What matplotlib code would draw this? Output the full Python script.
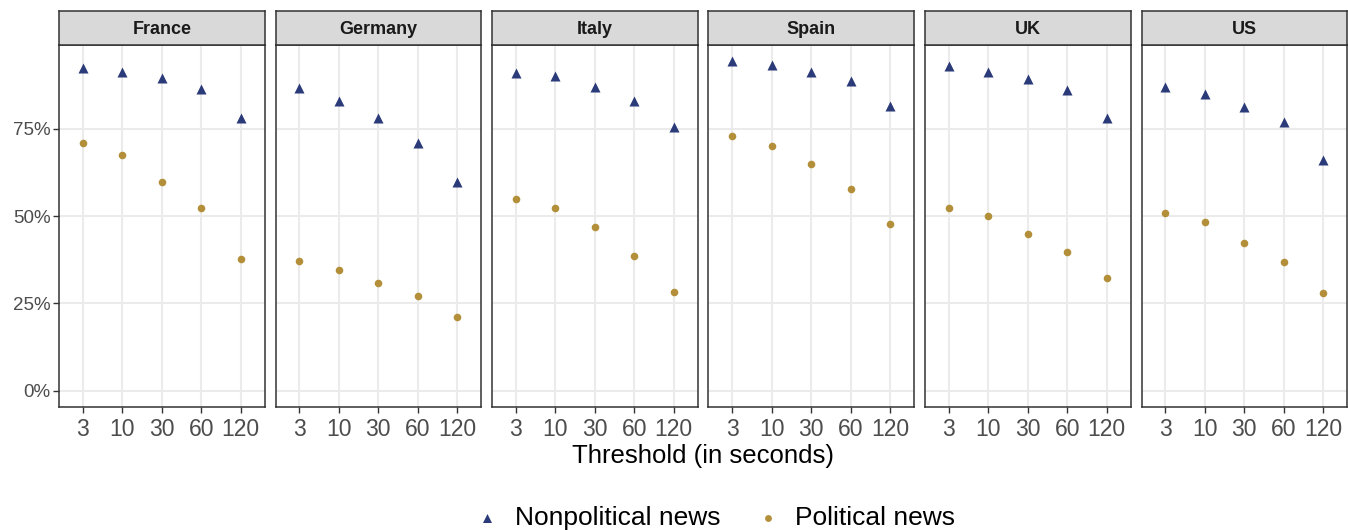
import matplotlib
matplotlib.use("Agg")
import matplotlib.pyplot as plt

plt.rcParams['font.family'] = ['Liberation Sans', 'DejaVu Sans']

countries = ["France", "Germany", "Italy", "Spain", "UK", "US"]
thresholds = ["3", "10", "30", "60", "120"]

# share of visits (%) per threshold
nonpolitical = {
    "France":  [92.3, 91.4, 89.6, 86.3, 78.0],
    "Germany": [86.8, 82.9, 78.2, 71.0, 59.8],
    "Italy":   [90.9, 90.0, 86.9, 82.9, 75.4],
    "Spain":   [94.3, 93.4, 91.4, 88.6, 81.4],
    "UK":      [92.9, 91.4, 89.4, 86.0, 78.0],
    "US":      [86.9, 85.1, 81.1, 76.9, 66.0],
}
political = {
    "France":  [70.9, 67.6, 59.7, 52.2, 37.7],
    "Germany": [37.2, 34.6, 30.8, 27.1, 21.2],
    "Italy":   [54.9, 52.2, 46.9, 38.6, 28.3],
    "Spain":   [72.9, 70.0, 65.0, 57.7, 47.7],
    "UK":      [52.2, 50.0, 45.0, 39.7, 32.2],
    "US":      [50.8, 48.2, 42.2, 36.9, 28.1],
}

navy = "#2b3a78"
gold = "#b38f3a"
border = "#333333"

W, H = 1348, 530
fig = plt.figure(figsize=(W / 100, H / 100), dpi=100)

left, pw, gap = 59, 205.5, 11
top_strip, strip_h, bottom = 11, 34, 407
xs = list(range(len(thresholds)))

for i, c in enumerate(countries):
    x0 = left + i * (pw + gap)
    ax = fig.add_axes([x0 / W, (H - bottom) / H, pw / W, (bottom - top_strip - strip_h) / H])
    ax.scatter(xs, nonpolitical[c], marker="^", s=52, color=navy, zorder=3, linewidths=0,
               label="Nonpolitical news" if i == 0 else None)
    ax.scatter(xs, political[c], marker="o", s=30, color=gold, zorder=3, linewidths=0,
               label="Political news" if i == 0 else None)
    ax.set_xlim(-0.6, 4.6)
    ax.set_ylim(-4.7, 99)
    ax.set_xticks(xs)
    ax.set_xticklabels(thresholds, fontsize=16.5, color="#4d4d4d")
    ax.set_yticks([0, 25, 50, 75])
    if i == 0:
        ax.set_yticklabels(["0%", "25%", "50%", "75%"], fontsize=13.5, color="#4d4d4d")
    else:
        ax.tick_params(axis="y", left=False, labelleft=False)
    ax.tick_params(axis="both", length=4, width=1, color=border, pad=2)
    ax.tick_params(axis="x", pad=4)
    ax.grid(True, color="#ebebeb", linewidth=1.5)
    ax.set_axisbelow(True)
    for s in ax.spines.values():
        s.set_color(border)
        s.set_linewidth(1.1)

    sax = fig.add_axes([x0 / W, (H - top_strip - strip_h) / H, pw / W, strip_h / H])
    sax.set_facecolor("#d9d9d9")
    sax.set_xticks([])
    sax.set_yticks([])
    for s in sax.spines.values():
        s.set_color(border)
        s.set_linewidth(1.1)
    sax.text(0.5, 0.45, c, transform=sax.transAxes, ha="center", va="center",
             fontsize=13, fontweight="bold", color="#1a1a1a")

    if i == 0:
        handles, labels = ax.get_legend_handles_labels()

fig.text(0.5 + 59 / W / 2, 1 - 456 / H, "Threshold (in seconds)", ha="center", va="center",
         fontsize=18.5)
fig.legend(handles, labels, loc="center", bbox_to_anchor=(0.530, 0.022), ncol=2,
           frameon=False, fontsize=19, handlelength=1.0, handletextpad=0.55,
           columnspacing=1.3, markerscale=0.9)

fig.savefig("out.png", dpi=100)
